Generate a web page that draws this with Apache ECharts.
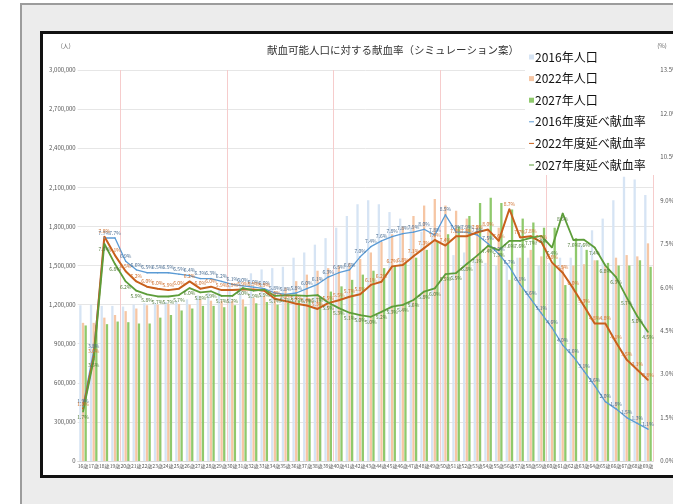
<!DOCTYPE html>
<html lang="ja">
<head>
<meta charset="utf-8">
<title>献血可能人口に対する献血率</title>
<script src="https://cdn.jsdelivr.net/npm/echarts@6.0.0/dist/echarts.min.js"></script>
<style>
  html, body { margin: 0; padding: 0; background: #fff; overflow: hidden; }
  #panel {
    position: absolute; left: 20px; top: 3px; width: 700px; height: 520px;
    background: #ececec; border-left: 2px solid #9c9c9c; border-top: 2px solid #9c9c9c;
  }
  #chart {
    position: absolute; left: 40px; top: 31px; width: 680px; height: 441px;
    background: #fff; border: 3px solid #111;
  }
</style>
</head>
<body>
<div id="panel"></div>
<div id="chart"></div>
<script>
"use strict";

// 年齢（16歳〜69歳）
const ages = [
  "16歳","17歳","18歳","19歳","20歳","21歳","22歳","23歳","24歳","25歳",
  "26歳","27歳","28歳","29歳","30歳","31歳","32歳","33歳","34歳","35歳",
  "36歳","37歳","38歳","39歳","40歳","41歳","42歳","43歳","44歳","45歳",
  "46歳","47歳","48歳","49歳","50歳","51歳","52歳","53歳","54歳","55歳",
  "56歳","57歳","58歳","59歳","60歳","61歳","62歳","63歳","64歳","65歳",
  "66歳","67歳","68歳","69歳"
];

// 人口（人）
const pop2016 = [
  1195000, 1200000, 1190000, 1190000, 1185000, 1200000, 1210000, 1210000, 1220000, 1230000,
  1240000, 1270000, 1290000, 1320000, 1350000, 1400000, 1440000, 1470000, 1480000, 1490000,
  1560000, 1600000, 1660000, 1710000, 1790000, 1880000, 1970000, 2000000, 1970000, 1910000,
  1860000, 1800000, 1760000, 1740000, 1380000, 1580000, 1600000, 1550000, 1520000, 1500000,
  1520000, 1560000, 1560000, 1500000, 1520000, 1560000, 1560000, 1660000, 1770000, 1860000,
  2000000, 2180000, 2160000, 2040000
];
const pop2022 = [
  1060000, 1060000, 1100000, 1120000, 1150000, 1170000, 1195000, 1200000, 1205000, 1205000,
  1200000, 1240000, 1230000, 1230000, 1230000, 1240000, 1250000, 1265000, 1300000, 1330000,
  1380000, 1430000, 1460000, 1480000, 1500000, 1520000, 1550000, 1600000, 1680000, 1740000,
  1800000, 1880000, 1960000, 2010000, 1960000, 1920000, 1860000, 1810000, 1780000, 1790000,
  1390000, 1560000, 1620000, 1570000, 1510000, 1500000, 1500000, 1510000, 1540000, 1500000,
  1560000, 1580000, 1570000, 1670000
];
const pop2027 = [
  1040000, 1045000, 1050000, 1070000, 1065000, 1055000, 1055000, 1100000, 1120000, 1155000,
  1170000, 1190000, 1190000, 1180000, 1195000, 1185000, 1210000, 1220000, 1200000, 1215000,
  1230000, 1240000, 1260000, 1300000, 1340000, 1390000, 1430000, 1460000, 1480000, 1500000,
  1520000, 1560000, 1620000, 1680000, 1740000, 1800000, 1880000, 1980000, 2020000, 1980000,
  1930000, 1860000, 1830000, 1790000, 1790000, 1350000, 1710000, 1620000, 1540000, 1520000,
  1500000, 1500000, 1540000, 1490000
];

// 延べ献血率（%）
const rate2016 = [
  1.9, 3.8, 7.7, 7.7, 6.9, 6.6, 6.5, 6.5, 6.5, 6.45,
  6.4, 6.3, 6.3, 6.2, 6.1, 6.05, 6.0, 5.95, 5.8, 5.75,
  5.8, 5.95, 6.1, 6.35, 6.5, 6.6, 7.05, 7.4, 7.6, 7.75,
  7.85, 7.9, 8.0, 7.8, 8.5, 7.9, 7.9, 7.8, 7.5, 7.15,
  6.7, 6.1, 5.6, 5.1, 4.6, 4.0, 3.6, 3.1, 2.6, 2.05,
  1.8, 1.5, 1.3, 1.1
];
const rate2022 = [
  1.8, 3.6, 7.75, 7.1, 6.55, 6.2, 6.02, 5.95, 5.9, 5.95,
  6.2, 5.95, 6.02, 5.9, 5.9, 5.92, 5.92, 5.88, 5.6, 5.52,
  5.43, 5.37, 5.25, 5.45, 5.55, 5.67, 5.76, 6.08, 6.19, 6.72,
  6.77, 7.07, 7.35, 7.63, 7.44, 7.76, 7.76, 7.9, 7.99, 7.6,
  8.7, 7.72, 7.76, 7.56, 6.85, 6.5, 5.95, 5.35, 4.75, 4.75,
  4.1, 3.5, 3.15, 2.8
];
const rate2027 = [
  1.7, 3.5, 7.5, 6.8, 6.2, 5.88, 5.75, 5.68, 5.68, 5.73,
  5.97, 5.82, 5.86, 5.7, 5.7, 5.97, 5.88, 5.92, 5.7, 5.72,
  5.72, 5.7, 5.73, 5.47, 5.28, 5.12, 5.04, 4.98, 5.15, 5.33,
  5.39, 5.56, 5.85, 5.96, 6.45, 6.49, 6.8, 7.1, 7.43, 7.28,
  7.6, 7.6, 7.7, 7.77, 7.37, 8.55, 7.63, 7.64, 7.37, 6.75,
  6.35, 5.65, 5.0, 4.45
];

const FONT = '"Noto Sans CJK JP", "Noto Sans", sans-serif';
const DASH = "path://M0,0H10V2H0Z";   // short legend stroke for the rate lines

const bar = (name, data, color) => ({
  name, type: "bar", data, yAxisIndex: 0,
  barWidth: 2.3, barGap: "15%",
  itemStyle: { color },
});

const line = (name, data, color, width, labelColor, pos) => ({
  name, type: "line", data, yAxisIndex: 1,
  symbol: "circle", symbolSize: 1.5, z: 5,
  lineStyle: { color, width },
  itemStyle: { color },
  label: {
    show: true, position: pos, distance: 2,
    fontSize: 5, color: labelColor, fontFamily: FONT,
    formatter: (p) => p.value.toFixed(1) + "%",
  },
});

const chart = echarts.init(document.getElementById("chart"), null, { renderer: "canvas" });

chart.setOption({
  animation: false,
  textStyle: { fontFamily: FONT },
  title: {
    text: "献血可能人口に対する献血率（シミュレーション案）",
    left: 219, top: 6,
    textStyle: { fontSize: 10.5, fontWeight: "normal", color: "#333", fontFamily: FONT },
  },
  legend: {
    orient: "vertical", left: 482, top: 13,
    backgroundColor: "#fff", padding: [4, 10, 4, 4],
    itemWidth: 5, itemHeight: 5, itemGap: 9.6,
    textStyle: { fontSize: 12, color: "#111", fontFamily: FONT, padding: [0, 0, 0, -4] },
    data: [
      { name: "2016年人口", icon: "rect" },
      { name: "2022年人口", icon: "rect" },
      { name: "2027年人口", icon: "rect" },
      { name: "2016年度延べ献血率", icon: DASH },
      { name: "2022年度延べ献血率", icon: DASH },
      { name: "2027年度延べ献血率", icon: DASH },
    ],
  },
  grid: { left: 34.7, right: 69.7, top: 36, bottom: 14 },
  xAxis: {
    type: "category", data: ages,
    axisTick: { show: false },
    axisLine: { lineStyle: { color: "#d9d9d9" } },
    axisLabel: { interval: 0, fontSize: 5, color: "#555", margin: 3 },
    splitLine: {
      show: true,
      interval: (i) => i % 10 === 4,
      lineStyle: { color: "#f6cccc", width: 1 },
    },
  },
  yAxis: [
    {
      type: "value", min: 0, max: 3000000, interval: 300000,
      name: "(人)", nameLocation: "end", nameGap: 21,
      nameTextStyle: { fontSize: 6, color: "#666", align: "right", padding: [0, 7, 0, 0] },
      axisLine: { show: false }, axisTick: { show: false },
      axisLabel: {
        fontSize: 6, color: "#555", margin: 2,
        formatter: (v) => v.toLocaleString("en-US"),
      },
      splitLine: { lineStyle: { color: "#e6e6e6" } },
    },
    {
      type: "value", min: 0, max: 13.5, interval: 1.5,
      name: "(%)", nameLocation: "end", nameGap: 21,
      nameTextStyle: { fontSize: 6, color: "#666", align: "left", padding: [0, 0, 0, 4] },
      axisLine: { show: false }, axisTick: { show: false },
      axisLabel: {
        fontSize: 6, color: "#555", margin: 7,
        formatter: (v) => v.toFixed(1) + "%",
      },
      splitLine: { show: false },
    },
  ],
  series: [
    bar("2016年人口", pop2016, "#d6e4f4"),
    bar("2022年人口", pop2022, "#f6c6a4"),
    bar("2027年人口", pop2027, "#8fc96c"),
    line("2016年度延べ献血率", rate2016, "#5b9bd5", 1.3, "#4a6d92", "top"),
    line("2022年度延べ献血率", rate2022, "#c8601c", 2, "#d0702e", "top"),
    line("2027年度延べ献血率", rate2027, "#5d9d3a", 1.8, "#4f7a37", "bottom"),
  ],
});
</script>
</body>
</html>
